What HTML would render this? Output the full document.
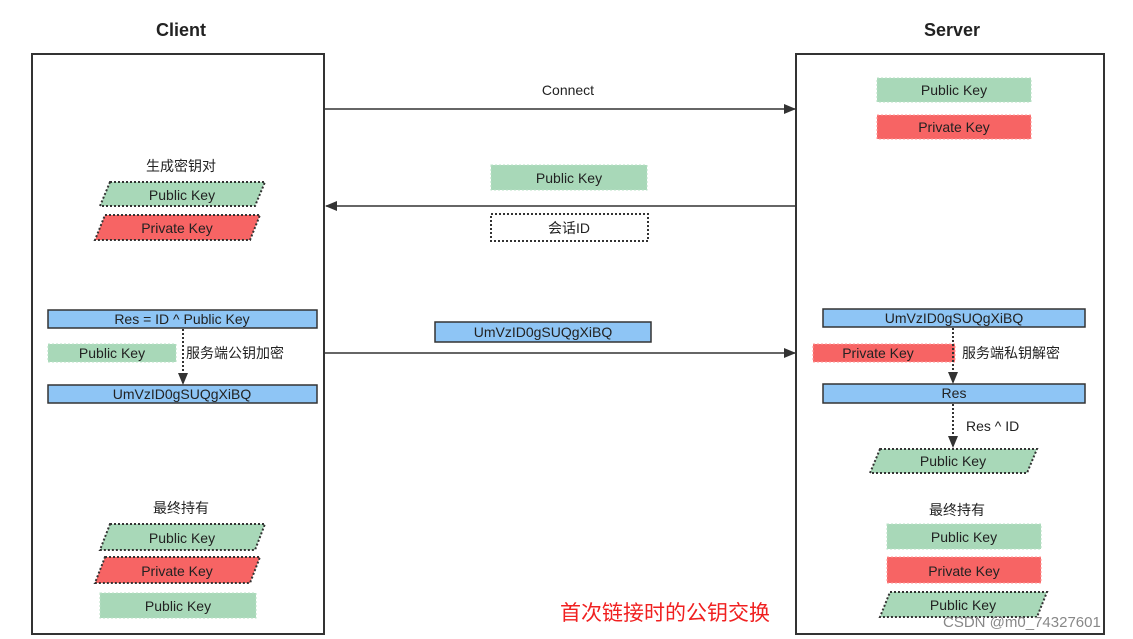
<!DOCTYPE html>
<html><head><meta charset="utf-8"><style>
html,body{margin:0;padding:0;background:#fff;}
svg{display:block}
text{font-family:"Liberation Sans","Noto Sans CJK SC",sans-serif;font-size:14px;fill:#222;}
</style></head><body>
<svg width="1133" height="639" viewBox="0 0 1133 639" xmlns="http://www.w3.org/2000/svg">
<defs>
<marker id="ah" markerWidth="12" markerHeight="10" refX="11" refY="5" orient="auto" markerUnits="userSpaceOnUse">
<path d="M0,0 L12,5 L0,10 Z" fill="#333"/></marker>
</defs>
<!-- titles -->
<text x="181" y="36" text-anchor="middle" style="font-size:18px;font-weight:bold">Client</text>
<text x="952" y="36" text-anchor="middle" style="font-size:18px;font-weight:bold">Server</text>
<!-- lanes -->
<rect x="32" y="54" width="292" height="580" fill="none" stroke="#333" stroke-width="2"/>
<rect x="796" y="54" width="308" height="580" fill="none" stroke="#333" stroke-width="2"/>

<!-- connect -->
<text x="568" y="95" text-anchor="middle">Connect</text>
<line x1="325" y1="109" x2="795" y2="109" stroke="#333" stroke-width="1.5" marker-end="url(#ah)"/>
<rect x="491" y="165" width="156" height="25" fill="#a8d8b8" stroke="#b8e0c6" stroke-dasharray="2,2"/>
<text x="569" y="183" text-anchor="middle">Public Key</text>
<line x1="795" y1="206" x2="326" y2="206" stroke="#333" stroke-width="1.5" marker-end="url(#ah)"/>
<rect x="491" y="214" width="157" height="27" fill="#fff" stroke="#333" stroke-width="2" stroke-dasharray="2,2"/>
<text x="569" y="233" text-anchor="middle">会话ID</text>
<rect x="435" y="322" width="216" height="20" fill="#8ec5f5" stroke="#333" stroke-width="1.5"/>
<text x="543" y="337" text-anchor="middle">UmVzID0gSUQgXiBQ</text>
<line x1="325" y1="353" x2="795" y2="353" stroke="#333" stroke-width="1.5" marker-end="url(#ah)"/>

<!-- server top -->
<rect x="877" y="78" width="154" height="24" fill="#a8d8b8" stroke="#b8e0c6" stroke-dasharray="2,2"/>
<text x="954" y="95" text-anchor="middle">Public Key</text>
<rect x="877" y="115" width="154" height="24" fill="#f76464" stroke="#f99" stroke-dasharray="2,2"/>
<text x="954" y="132" text-anchor="middle">Private Key</text>

<!-- client generate -->
<text x="181" y="171" text-anchor="middle">生成密钥对</text>
<polygon points="110,182 265,182 255,206 100,206" fill="#a8d8b8" stroke="#333" stroke-width="2" stroke-dasharray="2,2"/>
<text x="182" y="200" text-anchor="middle">Public Key</text>
<polygon points="105,215 260,215 250,240 95,240" fill="#f76464" stroke="#333" stroke-width="2" stroke-dasharray="2,2"/>
<text x="177" y="233" text-anchor="middle">Private Key</text>

<!-- client encrypt -->
<rect x="48" y="310" width="269" height="18" fill="#8ec5f5" stroke="#333" stroke-width="1.5"/>
<text x="182" y="324" text-anchor="middle">Res = ID ^ Public Key</text>
<rect x="48" y="344" width="128" height="18" fill="#a8d8b8" stroke="#b8e0c6" stroke-dasharray="2,2"/>
<text x="112" y="358" text-anchor="middle">Public Key</text>
<line x1="183" y1="329" x2="183" y2="384" stroke="#333" stroke-width="2" stroke-dasharray="2,2" marker-end="url(#ah)"/>
<text x="186" y="358">服务端公钥加密</text>
<rect x="48" y="385" width="269" height="18" fill="#8ec5f5" stroke="#333" stroke-width="1.5"/>
<text x="182" y="399" text-anchor="middle">UmVzID0gSUQgXiBQ</text>

<!-- client final -->
<text x="181" y="513" text-anchor="middle">最终持有</text>
<polygon points="110,524 265,524 255,550 100,550" fill="#a8d8b8" stroke="#333" stroke-width="2" stroke-dasharray="2,2"/>
<text x="182" y="543" text-anchor="middle">Public Key</text>
<polygon points="105,557 260,557 250,583 95,583" fill="#f76464" stroke="#333" stroke-width="2" stroke-dasharray="2,2"/>
<text x="177" y="576" text-anchor="middle">Private Key</text>
<rect x="100" y="593" width="156" height="25" fill="#a8d8b8" stroke="#b8e0c6" stroke-dasharray="2,2"/>
<text x="178" y="611" text-anchor="middle">Public Key</text>

<!-- server decrypt -->
<rect x="823" y="309" width="262" height="18" fill="#8ec5f5" stroke="#333" stroke-width="1.5"/>
<text x="954" y="323" text-anchor="middle">UmVzID0gSUQgXiBQ</text>
<rect x="813" y="344" width="142" height="18" fill="#f76464" stroke="#f99" stroke-dasharray="2,2"/>
<text x="878" y="358" text-anchor="middle">Private Key</text>
<line x1="953" y1="328" x2="953" y2="383" stroke="#333" stroke-width="2" stroke-dasharray="2,2" marker-end="url(#ah)"/>
<text x="962" y="358">服务端私钥解密</text>
<rect x="823" y="384" width="262" height="19" fill="#8ec5f5" stroke="#333" stroke-width="1.5"/>
<text x="954" y="398" text-anchor="middle">Res</text>
<line x1="953" y1="404" x2="953" y2="447" stroke="#333" stroke-width="2" stroke-dasharray="2,2" marker-end="url(#ah)"/>
<text x="966" y="431">Res ^ ID</text>
<polygon points="880,449 1037,449 1027,473 870,473" fill="#a8d8b8" stroke="#333" stroke-width="2" stroke-dasharray="2,2"/>
<text x="953" y="466" text-anchor="middle">Public Key</text>

<!-- server final -->
<text x="957" y="515" text-anchor="middle">最终持有</text>
<rect x="887" y="524" width="154" height="25" fill="#a8d8b8" stroke="#b8e0c6" stroke-dasharray="2,2"/>
<text x="964" y="542" text-anchor="middle">Public Key</text>
<rect x="887" y="557" width="154" height="26" fill="#f76464" stroke="#f99" stroke-dasharray="2,2"/>
<text x="964" y="576" text-anchor="middle">Private Key</text>
<polygon points="890,592 1047,592 1037,617 880,617" fill="#a8d8b8" stroke="#333" stroke-width="2" stroke-dasharray="2,2"/>
<text x="963" y="610" text-anchor="middle">Public Key</text>

<!-- caption -->
<text x="560" y="620" style="font-size:21px;fill:#f02020">首次链接时的公钥交换</text>
<text x="943" y="627" style="font-size:15px;fill:#888">CSDN @m0_74327601</text>
</svg>
</body></html>
